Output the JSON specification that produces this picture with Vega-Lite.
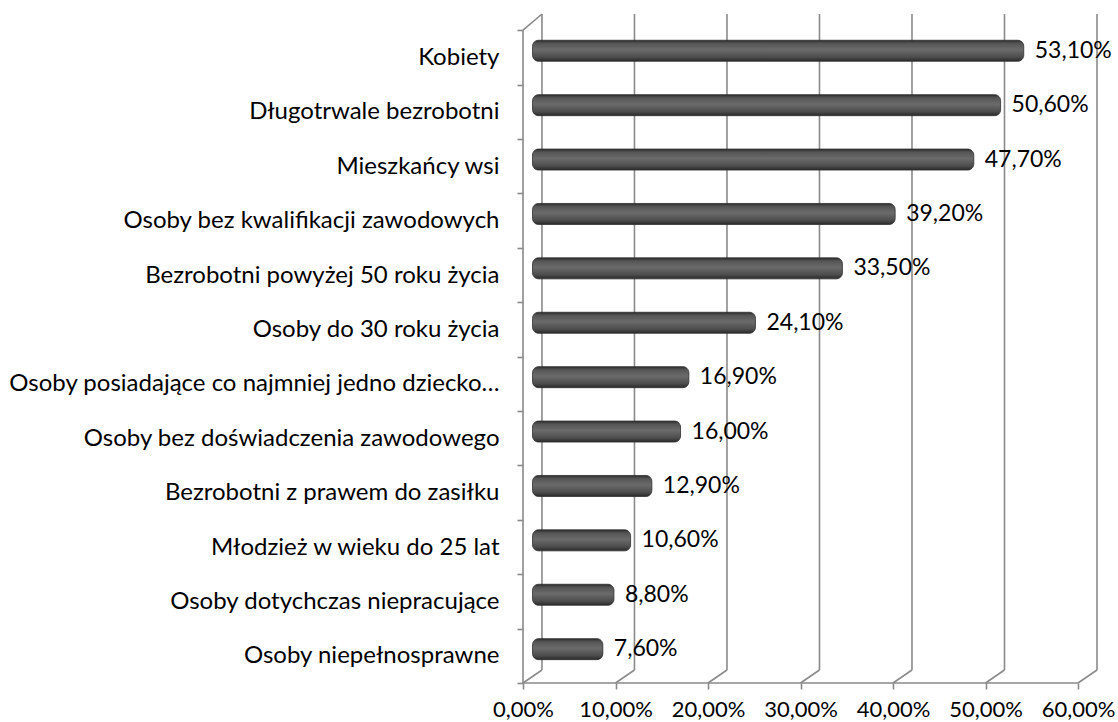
{
  "$schema": "https://vega.github.io/schema/vega-lite/v6.json",
  "width": 574,
  "height": 669,
  "autosize": {"type": "none"},
  "padding": {"left": 523, "top": 14, "right": 21, "bottom": 39},
  "background": "white",
  "config": {
    "view": {"stroke": null},
    "font": "Lato",
    "locale": {"number": {"decimal": ",", "thousands": " ", "grouping": [3], "currency": ["", " zł"]}}
  },
  "datasets": {
    "main": [
      {"grupa": "Kobiety", "udzial": 0.531},
      {"grupa": "Długotrwale bezrobotni", "udzial": 0.506},
      {"grupa": "Mieszkańcy wsi", "udzial": 0.477},
      {"grupa": "Osoby bez kwalifikacji zawodowych", "udzial": 0.392},
      {"grupa": "Bezrobotni powyżej 50 roku życia", "udzial": 0.335},
      {"grupa": "Osoby do 30 roku życia", "udzial": 0.241},
      {"grupa": "Osoby posiadające co najmniej jedno dziecko…", "udzial": 0.169},
      {"grupa": "Osoby bez doświadczenia zawodowego", "udzial": 0.16},
      {"grupa": "Bezrobotni z prawem do zasiłku", "udzial": 0.129},
      {"grupa": "Młodzież w wieku do 25 lat", "udzial": 0.106},
      {"grupa": "Osoby dotychczas niepracujące", "udzial": 0.088},
      {"grupa": "Osoby niepełnosprawne", "udzial": 0.076}
    ],
    "frame": [
      {"x": 0.0205, "x2": 0.0205, "y": 0.0194, "y2": 1},
      {"x": 0.1205, "x2": 0.1205, "y": 0.0194, "y2": 1},
      {"x": 0.2205, "x2": 0.2205, "y": 0.0194, "y2": 1},
      {"x": 0.3205, "x2": 0.3205, "y": 0.0194, "y2": 1},
      {"x": 0.4205, "x2": 0.4205, "y": 0.0194, "y2": 1},
      {"x": 0.5205, "x2": 0.5205, "y": 0.0194, "y2": 1},
      {"x": 0.6205, "x2": 0.6205, "y": 0.0194, "y2": 1},
      {"x": 0, "x2": 0.0205, "y": 0, "y2": 0.0194},
      {"x": 0.1, "x2": 0.1205, "y": 0, "y2": 0.0194},
      {"x": 0.2, "x2": 0.2205, "y": 0, "y2": 0.0194},
      {"x": 0.3, "x2": 0.3205, "y": 0, "y2": 0.0194},
      {"x": 0.4, "x2": 0.4205, "y": 0, "y2": 0.0194},
      {"x": 0.5, "x2": 0.5205, "y": 0, "y2": 0.0194},
      {"x": 0.6, "x2": 0.6205, "y": 0, "y2": 0.0194},
      {"x": 0, "x2": 0, "y": 0, "y2": 0.976},
      {"x": 0, "x2": 0.0205, "y": 0.976, "y2": 1},
      {"x": 0, "x2": 0.6, "y": 0, "y2": 0}
    ]
  },
  "layer": [
    {
      "data": {"name": "frame"},
      "mark": {"type": "rule", "color": "#8a8a8a", "strokeWidth": 1.6},
      "encoding": {
        "x": {"field": "x", "type": "quantitative", "scale": {"domain": [0, 0.6205], "nice": false, "zero": false}, "axis": null},
        "x2": {"field": "x2"},
        "y": {"field": "y", "type": "quantitative", "scale": {"domain": [0, 1], "nice": false}, "axis": null},
        "y2": {"field": "y2"}
      }
    },
    {
      "data": {"name": "main"},
      "mark": {"type": "bar", "opacity": 0},
      "encoding": {
        "x": {
          "field": "udzial", "type": "quantitative",
          "scale": {"domain": [0, 0.6205], "nice": false, "zero": false},
          "axis": {
            "values": [0, 0.1, 0.2, 0.3, 0.4, 0.5, 0.6],
            "format": ".2%",
            "title": null,
            "grid": false,
            "domain": false,
            "ticks": true,
            "tickSize": 6,
            "tickColor": "#8a8a8a",
            "tickWidth": 1.6,
            "labelFontSize": 22,
            "labelColor": "#000000",
            "labelPadding": 10,
            "labelFlush": false,
            "labelOverlap": false
          }
        },
        "y": {
          "field": "grupa", "type": "nominal", "sort": null,
          "scale": {"paddingInner": 0, "paddingOuter": 0.149, "align": 1},
          "axis": {
            "title": null,
            "domain": false,
            "tickBand": "extent",
            "tickSize": 6,
            "tickColor": "#8a8a8a",
            "tickWidth": 1.6,
            "labelFontSize": 24,
            "labelColor": "#000000",
            "labelPadding": 18,
            "labelLimit": 700
          }
        }
      }
    },
    {
      "data": {"name": "main"},
      "encoding": {
        "x": {"field": "udzial", "type": "quantitative", "scale": {"domain": [-0.0103, 0.6102], "nice": false, "zero": false}, "axis": null},
        "y": {"field": "grupa", "type": "nominal", "sort": null, "scale": {"paddingInner": 0, "paddingOuter": 0.149, "align": 0.59}, "axis": null}
      },
      "layer": [
        {
          "mark": {
            "type": "bar",
            "size": 21,
            "cornerRadius": 4,
            "cornerRadiusEnd": 6,
            "stroke": "#2f2f2f",
            "strokeWidth": 0.8,
            "color": {
              "gradient": "linear", "x1": 0, "y1": 0, "x2": 0, "y2": 1,
              "stops": [
                {"offset": 0, "color": "#2c2c2c"},
                {"offset": 0.15, "color": "#555555"},
                {"offset": 0.45, "color": "#6b6b6b"},
                {"offset": 0.8, "color": "#4d4d4d"},
                {"offset": 1, "color": "#2a2a2a"}
              ]
            }
          },
          "encoding": {"x2": {"datum": 0}}
        },
        {
          "mark": {"type": "text", "align": "left", "baseline": "middle", "dx": 11, "fontSize": 23, "color": "#000000"},
          "encoding": {"text": {"field": "udzial", "type": "quantitative", "format": ".2%"}}
        }
      ]
    }
  ],
  "resolve": {"scale": {"x": "independent", "y": "independent"}}
}
